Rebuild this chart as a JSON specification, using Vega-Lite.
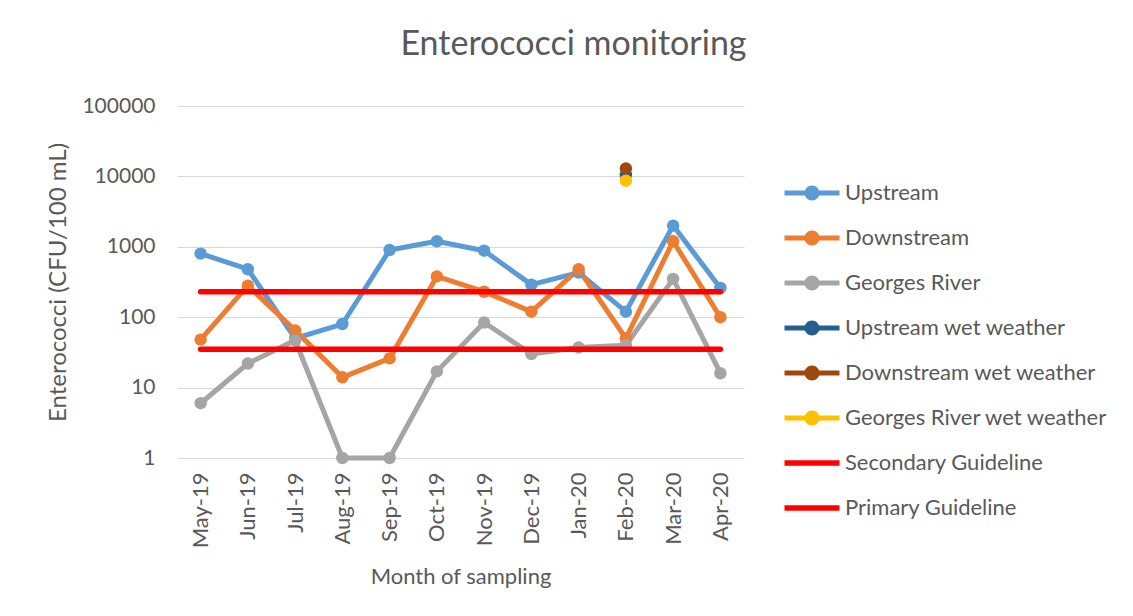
{
  "$schema": "https://vega.github.io/schema/vega-lite/v6.json",
  "autosize": {"type": "none"},
  "width": 567,
  "height": 352,
  "padding": {"left": 177, "top": 106, "right": 389, "bottom": 158},
  "background": "white",
  "title": {"text": "Enterococci monitoring", "frame": "group", "anchor": "middle", "dx": 113, "dy": 36, "baseline": "alphabetic", "offset": 42, "fontSize": 34, "font": "Lato", "fontWeight": "normal", "color": "#595959"},
  "config": {
    "font": "Lato",
    "view": {"stroke": null},
    "axis": {"labelColor": "#595959", "titleColor": "#595959", "labelFontSize": 21, "titleFontSize": 22, "titleFontWeight": "normal", "ticks": false, "domain": false, "gridColor": "#D9D9D9", "gridWidth": 1}
  },
  "datasets": {
    "obs": [
      {"month": "May-19", "series": "Upstream", "value": 800},
      {"month": "Jun-19", "series": "Upstream", "value": 480},
      {"month": "Jul-19", "series": "Upstream", "value": 50},
      {"month": "Aug-19", "series": "Upstream", "value": 80},
      {"month": "Sep-19", "series": "Upstream", "value": 900},
      {"month": "Oct-19", "series": "Upstream", "value": 1200},
      {"month": "Nov-19", "series": "Upstream", "value": 880},
      {"month": "Dec-19", "series": "Upstream", "value": 290},
      {"month": "Jan-20", "series": "Upstream", "value": 430},
      {"month": "Feb-20", "series": "Upstream", "value": 120},
      {"month": "Mar-20", "series": "Upstream", "value": 2000},
      {"month": "Apr-20", "series": "Upstream", "value": 260},
      {"month": "May-19", "series": "Downstream", "value": 48},
      {"month": "Jun-19", "series": "Downstream", "value": 280},
      {"month": "Jul-19", "series": "Downstream", "value": 65},
      {"month": "Aug-19", "series": "Downstream", "value": 14},
      {"month": "Sep-19", "series": "Downstream", "value": 26},
      {"month": "Oct-19", "series": "Downstream", "value": 380},
      {"month": "Nov-19", "series": "Downstream", "value": 230},
      {"month": "Dec-19", "series": "Downstream", "value": 120},
      {"month": "Jan-20", "series": "Downstream", "value": 480},
      {"month": "Feb-20", "series": "Downstream", "value": 50},
      {"month": "Mar-20", "series": "Downstream", "value": 1200},
      {"month": "Apr-20", "series": "Downstream", "value": 100},
      {"month": "May-19", "series": "Georges River", "value": 6},
      {"month": "Jun-19", "series": "Georges River", "value": 22},
      {"month": "Jul-19", "series": "Georges River", "value": 47},
      {"month": "Aug-19", "series": "Georges River", "value": 1},
      {"month": "Sep-19", "series": "Georges River", "value": 1},
      {"month": "Oct-19", "series": "Georges River", "value": 17},
      {"month": "Nov-19", "series": "Georges River", "value": 84},
      {"month": "Dec-19", "series": "Georges River", "value": 30},
      {"month": "Jan-20", "series": "Georges River", "value": 37},
      {"month": "Feb-20", "series": "Georges River", "value": 40},
      {"month": "Mar-20", "series": "Georges River", "value": 350},
      {"month": "Apr-20", "series": "Georges River", "value": 16},
      {"month": "Feb-20", "series": "Upstream wet weather", "value": 10500},
      {"month": "Feb-20", "series": "Downstream wet weather", "value": 13000},
      {"month": "Feb-20", "series": "Georges River wet weather", "value": 8700}
    ],
    "guide": [
      {"month": "May-19", "series": "Secondary Guideline", "value": 230},
      {"month": "Apr-20", "series": "Secondary Guideline", "value": 230},
      {"month": "May-19", "series": "Primary Guideline", "value": 35},
      {"month": "Apr-20", "series": "Primary Guideline", "value": 35}
    ]
  },
  "encoding": {
    "x": {"field": "month", "type": "ordinal", "sort": ["May-19","Jun-19","Jul-19","Aug-19","Sep-19","Oct-19","Nov-19","Dec-19","Jan-20","Feb-20","Mar-20","Apr-20"],
      "scale": {"type": "point", "padding": 0.5, "domain": ["May-19","Jun-19","Jul-19","Aug-19","Sep-19","Oct-19","Nov-19","Dec-19","Jan-20","Feb-20","Mar-20","Apr-20"]},
      "axis": {"title": "Month of sampling", "labelFontSize": 22, "labelAngle": -90, "labelAlign": "right", "labelBaseline": "middle", "labelPadding": 14, "grid": false, "titlePadding": 19}},
    "y": {"field": "value", "type": "quantitative",
      "scale": {"type": "log", "domain": [1, 100000], "nice": false},
      "axis": {"title": "Enterococci (CFU/100 mL)", "titleFontSize": 24, "values": [1,10,100,1000,10000,100000], "format": "d", "labelPadding": 22, "titlePadding": 11}},
    "color": {"field": "series", "type": "nominal",
      "scale": {"domain": ["Upstream","Downstream","Georges River","Upstream wet weather","Downstream wet weather","Georges River wet weather","Secondary Guideline","Primary Guideline"],
        "range": ["#5B9BD5","#ED7D31","#A5A5A5","#255E91","#9E480E","#FFC000","#FF0000","#FF0000"]},
      "legend": {"title": null, "orient": "none", "legendX": 624, "legendY": 76, "symbolSize": 484, "symbolStrokeWidth": 0, "labelOffset": 22, "rowPadding": 23, "labelFontSize": 22, "labelColor": "#595959", "padding": 0, "labelLimit": 400,
        "encode": {"symbols": {"update": {
          "shape": {"signal": "indexof(['Secondary Guideline','Primary Guideline'], datum.value) >= 0 ? 'M-2.5,-0.24H2.5V0.24H-2.5Z' : 'M-2.5,-0.22H2.5V0.22H-2.5Z M0.68,0A0.68,0.68 0 1 1 -0.68,0A0.68,0.68 0 1 1 0.68,0Z'"},
          "fill": {"scale": "color", "field": "value"},
          "fillOpacity": {"value": 1},
          "opacity": {"value": 1},
          "strokeWidth": {"value": 0}}}}}}
  },
  "layer": [
    {"data": {"name": "obs"}, "mark": {"type": "line", "strokeWidth": 5, "strokeCap": "round", "strokeJoin": "round"}},
    {"data": {"name": "obs"}, "mark": {"type": "circle", "size": 155, "opacity": 1}},
    {"data": {"name": "guide"}, "mark": {"type": "line", "strokeWidth": 5.5, "strokeCap": "round"}}
  ]
}
